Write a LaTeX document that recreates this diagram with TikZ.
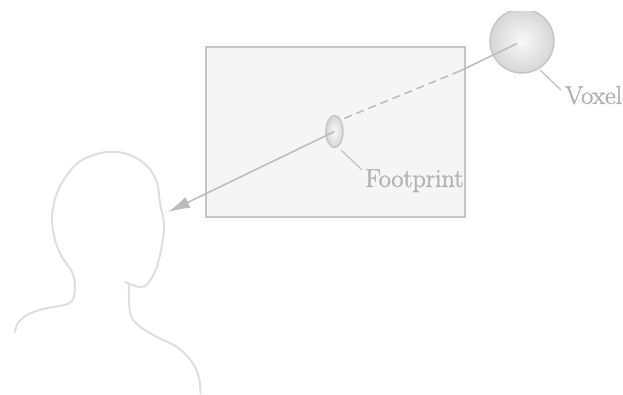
\documentclass[tikz,border=0pt]{standalone}
\usepackage{tikz}
\usepackage{fontspec}
\usetikzlibrary{positioning, arrows.meta, shapes.geometric}
\newfontfamily\tagfont[FakeBold=1.6]{Latin Modern Roman}
\definecolor{edgegray}{HTML}{C4C4C4}
\definecolor{raygray}{HTML}{BBBBBB}
\definecolor{headgray}{HTML}{DEDEDE}
\definecolor{textgray}{HTML}{B2B2B2}
\begin{document}
\begin{tikzpicture}[x=1pt, y=-1pt]
		% Define styles
		\tikzset{
			panel/.style={rectangle, draw=edgegray, line width=1.4pt, fill=gray!8, minimum width=259pt, minimum height=170pt, inner sep=0pt},
			blob/.style={draw=edgegray, line width=1.4pt, inner color=gray!5, outer color=gray!32, inner sep=0pt},
			ray/.style={draw=raygray, line width=1.5pt},
			leader/.style={draw=edgegray, line width=1.3pt},
			outline/.style={draw=headgray, line width=2pt, line cap=round},
			tag/.style={text=textgray, font=\tagfont\fontsize{26}{26}\selectfont, inner sep=0pt}
		}
		\useasboundingbox (0,0) rectangle (623,395);

		% Screen and the two round shapes
		\node[panel] (screen) at (335.5,132) {};
		\begin{scope}
			\clip (480,12) rectangle (560,80);
			\node[blob, circle, minimum size=64pt] (voxel) at (522,41) {};
		\end{scope}
		\node[blob, ellipse, minimum width=17pt, minimum height=32pt] (footprint) at (334.5,131.5) {};

		% Labels
		\node[tag, anchor=base west] (voxeltext) at (565,104) {Voxel};
		\node[tag, anchor=base west] (footprinttext) at (365,187) {Footprint};

		% Ray ends
		\coordinate (inside) at (517,43.5);
		\coordinate (centre) at (334.5,131.5);
		\coordinate (eye) at (168,212);
		\coordinate (hidden) at (460,71);
		\coordinate (voxelfoot) at (540,70);
		\coordinate (voxelend) at (561,90);
		\coordinate (footfoot) at (341,150);
		\coordinate (footend) at (362,170);

		% Arrows
		\draw[ray] (inside) -- (hidden);
		\draw[ray, dash pattern=on 8pt off 5pt] (hidden) -- (footprint.north east);
		\draw[ray, -{Latex[length=22pt, width=12pt]}] (centre) -- (eye);
		\draw[leader] (voxelfoot) -- (voxelend);
		\draw[leader] (footfoot) -- (footend);

		% Head and shoulders
		\draw[outline] plot[smooth, tension=0.6] coordinates {(15,332) (18,323) (27,315) (43,309) (62,305.5) (72,301) (75,287) (72,272) (62,257) (55,240) (52,217) (57,193) (67,175) (82,160) (107,152) (130,155) (148,167) (157,183) (160,203) (164,228) (158,263) (149,282) (140,287) (125,282)};
		\draw[outline] plot[smooth, tension=0.6] coordinates {(129,285) (130,312) (138,325) (157,337) (177,347) (192,362) (199,378) (200.5,393)};
	\end{tikzpicture}
\end{document}
